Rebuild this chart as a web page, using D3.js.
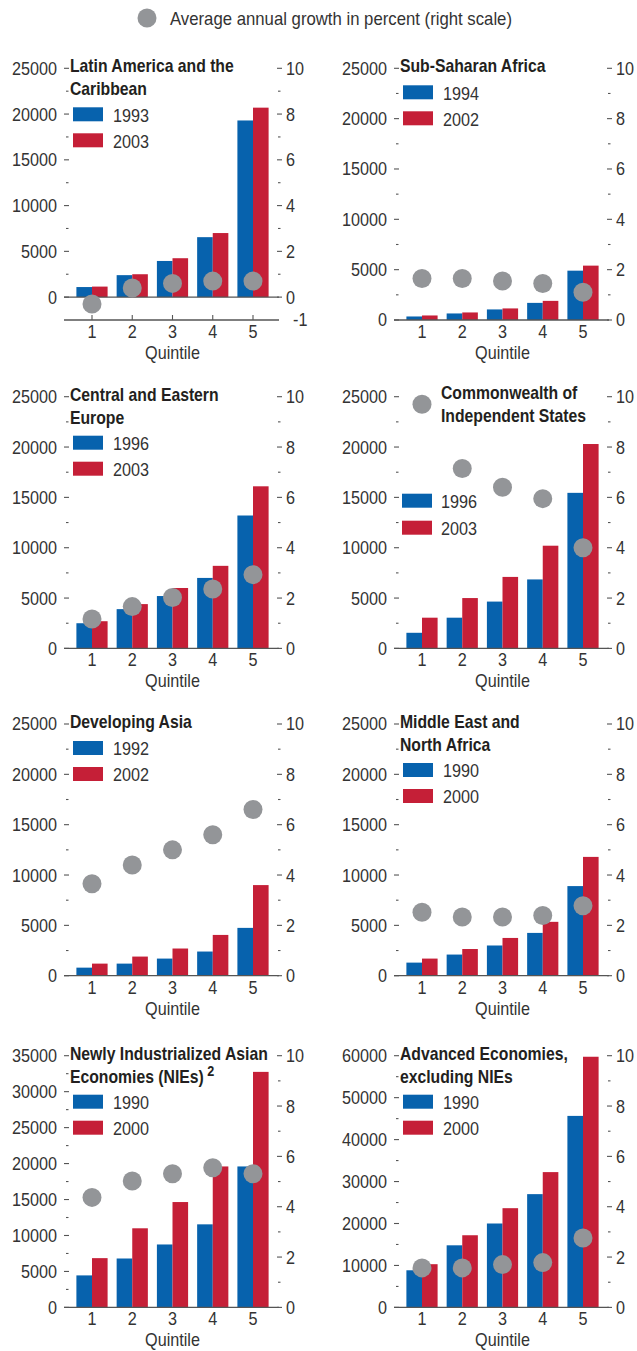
<!DOCTYPE html>
<html>
<head>
<meta charset="utf-8">
<script src="https://cdn.jsdelivr.net/npm/d3@7"></script>
<style>
  html, body { margin: 0; padding: 0; background: #ffffff; }
  svg { display: block; }
  text { font-family: "Liberation Sans", Arial, Helvetica, sans-serif; fill: #333333; }
</style>
</head>
<body>
<svg id="chart" width="637" height="1351"></svg>
<script>
// ---------------- data ----------------
const quintiles = ["1", "2", "3", "4", "5"];

const latamYears = ["1993", "2003"];
const latamStart = [1100, 2400, 3950, 6550, 19300];
const latamEnd = [1150, 2500, 4250, 7000, 20700];
const latamGrowth = [-0.3, 0.4, 0.6, 0.7, 0.7];

const ssaYears = ["1994", "2002"];
const ssaStart = [350, 650, 1050, 1700, 4900];
const ssaEnd = [450, 750, 1150, 1900, 5400];
const ssaGrowth = [1.65, 1.65, 1.55, 1.45, 1.1];

const ceeYears = ["1996", "2003"];
const ceeStart = [2500, 3900, 5200, 7000, 13200];
const ceeEnd = [2700, 4400, 6000, 8200, 16100];
const ceeGrowth = [1.17, 1.66, 2.02, 2.36, 2.93];

const cisYears = ["1996", "2003"];
const cisStart = [1550, 3050, 4650, 6850, 15450];
const cisEnd = [3050, 5000, 7100, 10200, 20300];
const cisGrowth = [9.7, 7.15, 6.4, 5.95, 4.0];

const asiaYears = ["1992", "2002"];
const asiaStart = [800, 1200, 1700, 2400, 4750];
const asiaEnd = [1200, 1900, 2700, 4050, 9000];
const asiaGrowth = [3.65, 4.4, 5.0, 5.6, 6.6];

const menaYears = ["1990", "2000"];
const menaStart = [1300, 2100, 3000, 4250, 8900];
const menaEnd = [1700, 2650, 3750, 5350, 11800];
const menaGrowth = [2.52, 2.33, 2.33, 2.39, 2.78];

const niesYears = ["1990", "2000"];
const niesStart = [4450, 6800, 8750, 11550, 19600];
const niesEnd = [6850, 11000, 14650, 19600, 32750];
const niesGrowth = [4.37, 5.02, 5.31, 5.55, 5.31];

const advYears = ["1990", "2000"];
const advStart = [8850, 14800, 20000, 27000, 45650];
const advEnd = [10300, 17200, 23650, 32250, 59750];
const advGrowth = [1.57, 1.57, 1.7, 1.78, 2.76];

const leftTicks25 = [0, 5000, 10000, 15000, 20000, 25000];
const leftTicks35 = [0, 5000, 10000, 15000, 20000, 25000, 30000, 35000];
const leftTicks60 = [0, 10000, 20000, 30000, 40000, 50000, 60000];
const rightTicks = [0, 2, 4, 6, 8, 10];
const rightMinor = [1, 3, 5, 7, 9];

const legendLabel = "Average annual growth in percent (right scale)";
const xTitle = "Quintile";

// ---------------- panel table ----------------
const panels = [
  { title: ["Latin America and the", "Caribbean"], years: latamYears, a: latamStart, b: latamEnd, g: latamGrowth,
    ticks: leftTicks25, lmin: -2500, rmin: -1, col: 0, row: 0, legend: "two" },
  { title: ["Sub-Saharan Africa"], years: ssaYears, a: ssaStart, b: ssaEnd, g: ssaGrowth,
    ticks: leftTicks25, lmin: 0, rmin: 0, col: 1, row: 0, legend: "one" },
  { title: ["Central and Eastern", "Europe"], years: ceeYears, a: ceeStart, b: ceeEnd, g: ceeGrowth,
    ticks: leftTicks25, lmin: 0, rmin: 0, col: 0, row: 1, legend: "two" },
  { title: ["Commonwealth of", "Independent States"], years: cisYears, a: cisStart, b: cisEnd, g: cisGrowth,
    ticks: leftTicks25, lmin: 0, rmin: 0, col: 1, row: 1, legend: "cis" },
  { title: ["Developing Asia"], years: asiaYears, a: asiaStart, b: asiaEnd, g: asiaGrowth,
    ticks: leftTicks25, lmin: 0, rmin: 0, col: 0, row: 2, legend: "one" },
  { title: ["Middle East and", "North Africa"], years: menaYears, a: menaStart, b: menaEnd, g: menaGrowth,
    ticks: leftTicks25, lmin: 0, rmin: 0, col: 1, row: 2, legend: "two" },
  { title: ["Newly Industrialized Asian", "Economies (NIEs)"], sup: "2", years: niesYears, a: niesStart, b: niesEnd, g: niesGrowth,
    ticks: leftTicks35, lmin: 0, rmin: 0, col: 0, row: 3, legend: "two" },
  { title: ["Advanced Economies,", "excluding NIEs"], years: advYears, a: advStart, b: advEnd, g: advGrowth,
    ticks: leftTicks60, lmin: 0, rmin: 0, col: 1, row: 3, legend: "two" }
];

// ---------------- layout ----------------
const colLeft = [64, 394];
const rowTop = [68.3, 396.7, 724, 1055.7];
const plotH = 251.7;
const plotW = 215;
const BLUE = "#0762AD", RED = "#C51F37", GREY = "#939598", AXIS = "#555555", TITLE = "#231f20";
const FS = 18, SX = 0.9, TFS = 17.5, TSX = 0.9;

const svg = d3.select("#chart");

function addText(parent, x, y, str, o = {}) {
  const gg = parent.append("g")
    .attr("transform", `translate(${x},${y}) scale(${o.sx || SX},1)`);
  const t = gg.append("text")
    .attr("text-anchor", o.anchor || "start")
    .attr("font-size", o.size || FS)
    .text(str);
  if (o.dy) t.attr("dy", o.dy);
  if (o.weight) t.attr("font-weight", o.weight).style("fill", TITLE);
  return t;
}

// top legend
svg.append("circle").attr("cx", 147).attr("cy", 18).attr("r", 9.5).attr("fill", GREY);
addText(svg, 170, 24.5, legendLabel, { size: 18, sx: 0.93 });

panels.forEach(p => {
  const L = colLeft[p.col];
  const top = rowTop[p.row];
  const bottom = top + plotH;
  const g = svg.append("g");

  const lmax = p.ticks[p.ticks.length - 1];
  const yL = d3.scaleLinear().domain([p.lmin, lmax]).range([bottom, top]);
  const yR = d3.scaleLinear().domain([p.rmin, 10]).range([bottom, top]);
  const x0 = d3.scalePoint().domain(quintiles).range([L + 28, L + 189]);
  const x1 = d3.scaleBand().domain(["a", "b"]).range([-15.6, 15.6]);

  // left ticks
  const lstep = p.ticks[1] - p.ticks[0];
  const lminor = p.ticks.slice(0, -1).map(t => t + lstep / 2);
  g.selectAll(".lt").data(p.ticks).join("line")
    .attr("x1", L).attr("x2", L + 5).attr("y1", d => yL(d)).attr("y2", d => yL(d))
    .attr("stroke", AXIS).attr("stroke-width", 1.1);
  g.selectAll(".lm").data(lminor).join("line")
    .attr("x1", L + 2).attr("x2", L + 4.5).attr("y1", d => yL(d)).attr("y2", d => yL(d))
    .attr("stroke", AXIS).attr("stroke-width", 1.1);
  p.ticks.forEach(d => addText(g, L - 7, yL(d), String(d), { anchor: "end", dy: "0.36em" }));

  // right ticks
  g.selectAll(".rt").data(rightTicks).join("line")
    .attr("x1", L + plotW - 2).attr("x2", L + plotW + 3).attr("y1", d => yR(d)).attr("y2", d => yR(d))
    .attr("stroke", AXIS).attr("stroke-width", 1.1);
  g.selectAll(".rm").data(rightMinor).join("line")
    .attr("x1", L + plotW - 1).attr("x2", L + plotW + 1.5).attr("y1", d => yR(d)).attr("y2", d => yR(d))
    .attr("stroke", AXIS).attr("stroke-width", 1.1);
  rightTicks.forEach(d => addText(g, L + plotW + 7, yR(d), String(d), { dy: "0.36em" }));
  if (p.rmin < 0) addText(g, L + plotW + 14, yR(p.rmin), String(p.rmin), { dy: "0.36em" });

  // bars
  const rows = quintiles.map((q, i) => ({ q, a: p.a[i], b: p.b[i], gr: p.g[i] }));
  const grp = g.selectAll(".grp").data(rows).join("g")
    .attr("transform", d => `translate(${x0(d.q)},0)`);
  grp.append("rect").attr("x", x1("a")).attr("width", x1.bandwidth())
    .attr("y", d => yL(d.a)).attr("height", d => yL(0) - yL(d.a)).attr("fill", BLUE);
  grp.append("rect").attr("x", x1("b")).attr("width", x1.bandwidth())
    .attr("y", d => yL(d.b)).attr("height", d => yL(0) - yL(d.b)).attr("fill", RED);

  // zero line
  g.append("line").attr("x1", L).attr("x2", L + plotW).attr("y1", yL(0)).attr("y2", yL(0))
    .attr("stroke", AXIS).attr("stroke-width", 1.3);
  if (p.lmin < 0) {
    g.append("line").attr("x1", L).attr("x2", L + plotW).attr("y1", bottom).attr("y2", bottom)
      .attr("stroke", AXIS).attr("stroke-width", 1.3);
    g.selectAll(".xt").data(quintiles).join("line")
      .attr("x1", d => x0(d)).attr("x2", d => x0(d)).attr("y1", bottom - 5).attr("y2", bottom)
      .attr("stroke", AXIS).attr("stroke-width", 1.1);
  }

  // dots
  g.selectAll(".dot").data(rows).join("circle")
    .attr("cx", d => x0(d.q)).attr("cy", d => yR(d.gr)).attr("r", 9.5).attr("fill", GREY);

  // x labels
  quintiles.forEach(q => addText(g, x0(q), bottom + 18, q, { anchor: "middle" }));
  addText(g, (x0("1") + x0("5")) / 2, bottom + 39, xTitle, { anchor: "middle" });

  // title
  const tx = p.legend === "cis" ? L + 47 : L + 6;
  const ty = p.legend === "cis" ? top + 2 : top + 4;
  p.title.forEach((line, i) => {
    const t = addText(g, tx, ty + i * 23, line, { size: TFS, sx: TSX, weight: "bold" });
    if (p.sup && i === p.title.length - 1) {
      t.append("tspan").attr("dx", 4).attr("dy", -7).attr("font-size", 14).text(p.sup);
    }
  });

  // legend
  let ly, lx, ltx;
  if (p.legend === "two") { ly = [top + 39, top + 65]; lx = L + 9; ltx = L + 49; }
  else if (p.legend === "one") { ly = [top + 17, top + 43]; lx = L + 9; ltx = L + 49; }
  else { ly = [top + 97, top + 124]; lx = L + 8; ltx = L + 47; }
  [BLUE, RED].forEach((c, i) => {
    g.append("rect").attr("x", lx).attr("y", ly[i]).attr("width", 30).attr("height", 14).attr("fill", c);
    addText(g, ltx, ly[i] + 7, p.years[i], { dy: "0.4em" });
  });
});
</script>
</body>
</html>
